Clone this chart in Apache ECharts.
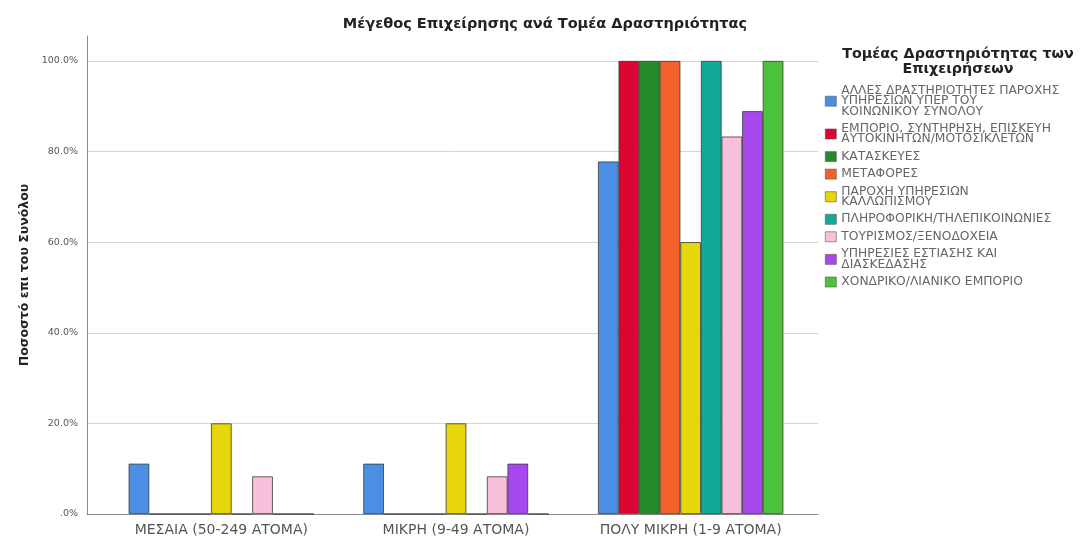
<!DOCTYPE html>
<html>
<head>
<meta charset="utf-8">
<script src="https://cdn.jsdelivr.net/npm/echarts@6/dist/echarts.min.js"></script>
<style>
  html, body { margin: 0; padding: 0; background: #fff; }
  #chart { width: 1086px; height: 537px; }
</style>
</head>
<body>
<div id="chart"></div>
<script>
// Business size categories (x axis)
const categories = ['ΜΕΣΑΙΑ (50-249 ΑΤΟΜΑ)', 'ΜΙΚΡΗ (9-49 ΑΤΟΜΑ)', 'ΠΟΛΥ ΜΙΚΡΗ (1-9 ΑΤΟΜΑ)'];

// Sectors of activity (legend), with the wrapped legend text
const sectors = [
  'ΑΛΛΕΣ ΔΡΑΣΤΗΡΙΟΤΗΤΕΣ ΠΑΡΟΧΗΣ ΥΠΗΡΕΣΙΩΝ ΥΠΕΡ ΤΟΥ ΚΟΙΝΩΝΙΚΟΥ ΣΥΝΟΛΟΥ',
  'ΕΜΠΟΡΙΟ, ΣΥΝΤΗΡΗΣΗ, ΕΠΙΣΚΕΥΗ ΑΥΤΟΚΙΝΗΤΩΝ/ΜΟΤΟΣΙΚΛΕΤΩΝ',
  'ΚΑΤΑΣΚΕΥΕΣ',
  'ΜΕΤΑΦΟΡΕΣ',
  'ΠΑΡΟΧΗ ΥΠΗΡΕΣΙΩΝ ΚΑΛΛΩΠΙΣΜΟΥ',
  'ΠΛΗΡΟΦΟΡΙΚΗ/ΤΗΛΕΠΙΚΟΙΝΩΝΙΕΣ',
  'ΤΟΥΡΙΣΜΟΣ/ΞΕΝΟΔΟΧΕΙΑ',
  'ΥΠΗΡΕΣΙΕΣ ΕΣΤΙΑΣΗΣ ΚΑΙ ΔΙΑΣΚΕΔΑΣΗΣ',
  'ΧΟΝΔΡΙΚΟ/ΛΙΑΝΙΚΟ ΕΜΠΟΡΙΟ'
];
const sectorLabels = [
  'ΑΛΛΕΣ ΔΡΑΣΤΗΡΙΟΤΗΤΕΣ ΠΑΡΟΧΗΣ\nΥΠΗΡΕΣΙΩΝ ΥΠΕΡ ΤΟΥ\nΚΟΙΝΩΝΙΚΟΥ ΣΥΝΟΛΟΥ',
  'ΕΜΠΟΡΙΟ, ΣΥΝΤΗΡΗΣΗ, ΕΠΙΣΚΕΥΗ\nΑΥΤΟΚΙΝΗΤΩΝ/ΜΟΤΟΣΙΚΛΕΤΩΝ',
  'ΚΑΤΑΣΚΕΥΕΣ',
  'ΜΕΤΑΦΟΡΕΣ',
  'ΠΑΡΟΧΗ ΥΠΗΡΕΣΙΩΝ\nΚΑΛΛΩΠΙΣΜΟΥ',
  'ΠΛΗΡΟΦΟΡΙΚΗ/ΤΗΛΕΠΙΚΟΙΝΩΝΙΕΣ',
  'ΤΟΥΡΙΣΜΟΣ/ΞΕΝΟΔΟΧΕΙΑ',
  'ΥΠΗΡΕΣΙΕΣ ΕΣΤΙΑΣΗΣ ΚΑΙ\nΔΙΑΣΚΕΔΑΣΗΣ',
  'ΧΟΝΔΡΙΚΟ/ΛΙΑΝΙΚΟ ΕΜΠΟΡΙΟ'
];

// Percentage of each sector's total, per business size
const pctOther       = [11.1, 11.1, 77.8];
const pctCarTrade    = [0, 0, 100];
const pctConstruct   = [0, 0, 100];
const pctTransport   = [0, 0, 100];
const pctBeauty      = [20, 20, 60];
const pctIT          = [0, 0, 100];
const pctTourism     = [8.3, 8.3, 83.3];
const pctFood        = [0, 11.1, 88.9];
const pctWholesale   = [0, 0, 100];

// Y axis tick labels
const yTickLabels = { 0: '.0%', 20: '20.0%', 40: '40.0%', 60: '60.0%', 80: '80.0%', 100: '100.0%' };

const seriesValues = [pctOther, pctCarTrade, pctConstruct, pctTransport, pctBeauty, pctIT, pctTourism, pctFood, pctWholesale];
const colors = ['#4a8fe3', '#dc0532', '#258a2c', '#f4622c', '#e6d60a', '#14a898', '#f9c0de', '#a648ee', '#4cc23c'];

const labelMap = {};
sectors.forEach((s, i) => { labelMap[s] = sectorLabels[i]; });

const Y_MAX = 105.5;
const FONT = '"DejaVu Sans", "Liberation Sans", Arial, sans-serif';

const chart = echarts.init(document.getElementById('chart'), null, { renderer: 'canvas' });

chart.setOption({
  backgroundColor: '#ffffff',
  animation: false,
  color: colors,
  title: [
    {
      text: 'Μέγεθος Επιχείρησης ανά Τομέα Δραστηριότητας',
      left: 540, top: 12, textAlign: 'center',
      textStyle: { fontFamily: FONT, fontSize: 14.5, fontWeight: 'bold', color: '#222' }
    },
    {
      text: 'Τομέας Δραστηριότητας των\nΕπιχειρήσεων',
      left: 953, top: 42, textAlign: 'center',
      textStyle: { fontFamily: FONT, fontSize: 14.3, fontWeight: 'bold', color: '#222', lineHeight: 15, align: 'center' }
    }
  ],
  legend: {
    orient: 'vertical',
    left: 820, top: 80,
    itemWidth: 11, itemHeight: 10, itemGap: 5.5,
    icon: 'rect',
    data: sectors,
    formatter: name => labelMap[name],
    itemStyle: { borderColor: '#555', borderWidth: 0.6 },
    textStyle: { fontFamily: FONT, fontSize: 12.3, lineHeight: 10.2, color: '#666' }
  },
  grid: [
    { left: 87, right: 268, top: 36, bottom: 23 },
    { left: 104, right: 278, top: 36, bottom: 23 }
  ],
  xAxis: [
    {
      gridIndex: 0, type: 'category', data: categories,
      axisLine: { show: true, lineStyle: { color: '#8c8c8c', width: 1 } },
      axisTick: { show: false }, axisLabel: { show: false }, splitLine: { show: false }
    },
    {
      gridIndex: 1, type: 'category', data: categories,
      axisLine: { show: false }, axisTick: { show: false },
      axisLabel: { interval: 0, margin: 9, fontFamily: FONT, fontSize: 14, color: '#555' }
    }
  ],
  yAxis: [
    {
      gridIndex: 0, type: 'value', min: 0, max: Y_MAX, interval: 20,
      name: 'Ποσοστό επι του Συνόλου', nameLocation: 'middle', nameGap: 50,
      nameTextStyle: { fontFamily: FONT, fontSize: 12.5, fontWeight: 'bold', color: '#222' },
      axisLine: { show: true, lineStyle: { color: '#8c8c8c', width: 1 } },
      axisTick: { show: false },
      axisLabel: {
        margin: 9, showMaxLabel: false,
        fontFamily: FONT, fontSize: 9.5, color: '#555',
        formatter: v => (yTickLabels[v] !== undefined ? yTickLabels[v] : '')
      },
      splitLine: { show: true, showMaxLine: false, lineStyle: { color: '#d4d4d4', width: 1 } }
    },
    {
      gridIndex: 1, type: 'value', min: 0, max: Y_MAX, interval: 20,
      show: false, splitLine: { show: false }
    }
  ],
  series: sectors.map((name, i) => ({
    name,
    type: 'bar',
    xAxisIndex: 1, yAxisIndex: 1,
    data: seriesValues[i],
    barWidth: 20.6,
    barGap: '0%',
    itemStyle: { color: colors[i], borderColor: '#3a3a3a', borderWidth: 0.8 }
  }))
});
</script>
</body>
</html>
